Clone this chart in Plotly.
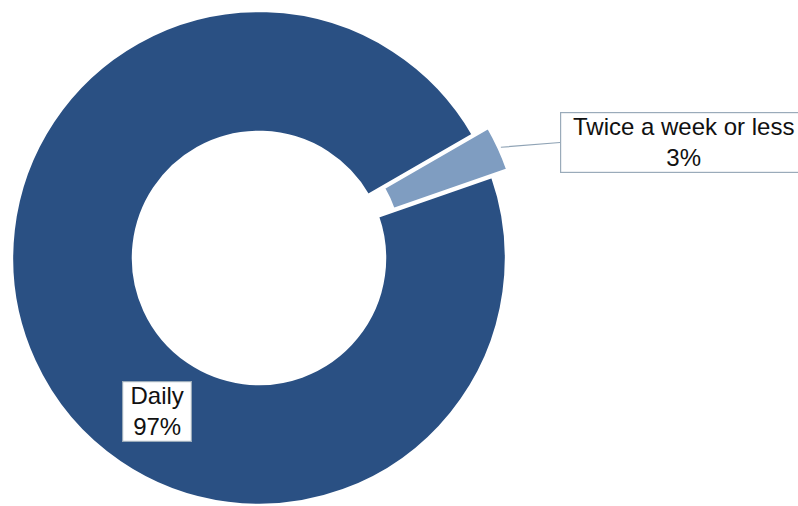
import math
import plotly.graph_objects as go

# Data
labels = ["Twice a week or less", "Daily"]
values = [3, 97]
colors = ["#7f9dc1", "#2a5083"]

# Figure geometry (pixels)
W, H = 798, 506
cx, cy = 259, 258          # centre of the ring
R = 247                    # outer radius
hole = 0.51
start_angle = 60           # first slice starts here, clockwise from 12 o'clock
pull_px = 17               # how far the small slice is pulled out

total = sum(values)
mid = math.radians(start_angle + 360 * values[0] / total / 2)
pdx = pull_px * math.sin(mid)
pdy = -pull_px * math.cos(mid)


def domain(x0, y0):
    return dict(x=[(x0 - R) / W, (x0 + R) / W],
                y=[1 - (y0 + R) / H, 1 - (y0 - R) / H])


clear = "rgba(0,0,0,0)"
common = dict(labels=labels, values=values, hole=hole, sort=False,
              direction="clockwise", rotation=start_angle,
              textinfo="none", showlegend=False)

fig = go.Figure()
# main ring (Daily)
fig.add_trace(go.Pie(**common, domain=domain(cx, cy),
                     marker=dict(colors=[clear, colors[1]],
                                 line=dict(color=[clear, "white"], width=2.5))))
# exploded slice
fig.add_trace(go.Pie(**common, domain=domain(cx + pdx, cy + pdy),
                     marker=dict(colors=[colors[0], clear],
                                 line=dict(color=["white", clear], width=3))))

font = dict(family="Arial, Liberation Sans, sans-serif", size=24, color="#111111")

# label with leader line for the small slice
tip_r = R + 2
tip_x = cx + pdx + tip_r * math.sin(mid)
tip_y = cy + pdy - tip_r * math.cos(mid)
box_left, box_mid = 560, 142.5
fig.add_annotation(
    xref="paper", yref="paper", x=tip_x / W, y=1 - tip_y / H,
    text=f"{labels[0]}<br>{values[0]}%", font=font,
    showarrow=True, arrowhead=0, arrowwidth=1.2, arrowcolor="#8fa3b5",
    ax=box_left - tip_x, ay=box_mid - tip_y,
    xanchor="left", yanchor="middle", align="center",
    bgcolor="white", bordercolor="#9aabba", borderwidth=1.2, borderpad=0,
    width=245,
)

# label inside the ring for the large slice
fig.add_annotation(
    xref="paper", yref="paper", x=157 / W, y=1 - 411 / H,
    text=f"{labels[1]}<br>{values[1]}%", font=font,
    showarrow=False, xanchor="center", yanchor="middle", align="center",
    bgcolor="white", bordercolor="#9aabba", borderwidth=1.2, borderpad=0,
    width=68,
)

fig.update_layout(width=W, height=H, margin=dict(l=0, r=0, t=0, b=0),
                  paper_bgcolor="white", plot_bgcolor="white")

fig.write_html("out.html")
